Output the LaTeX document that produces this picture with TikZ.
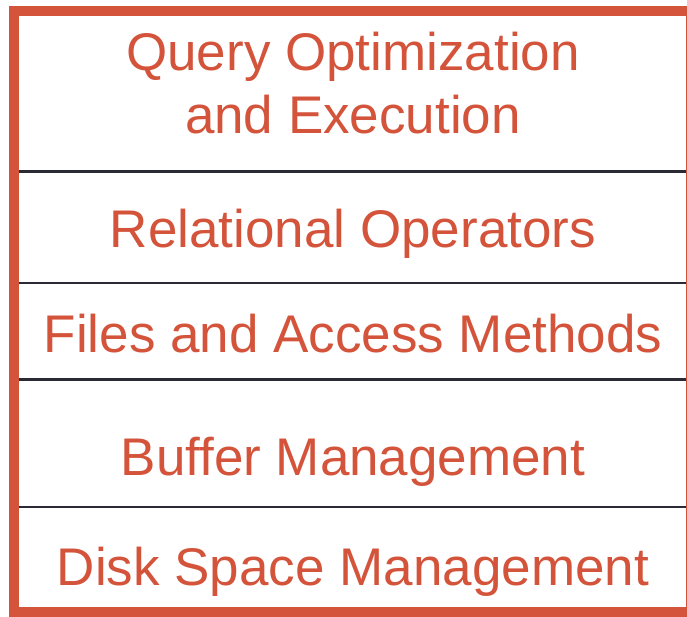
\documentclass[tikz,border=0pt]{standalone}
\usepackage{fontspec}
\setmainfont{Liberation Sans}
\usepackage{tikz}

\definecolor{layerred}{RGB}{212,84,59}
\definecolor{seprule}{RGB}{42,42,52}

\tikzset{
  layer/.style={anchor=base, text=layerred, inner sep=0pt, align=center,
    font=\fontsize{53}{63}\selectfont},
}

\begin{document}
\begin{tikzpicture}[x=1pt,y=-1pt]

\clip (0,0) rectangle (687,616);
\fill[white] (0,0) rectangle (687,616);

\node[layer] (query) at (353,133) {Query Optimization\\and Execution};
\node[layer] (relops) at (353,247) {Relational Operators};
\node[layer] (files) at (353,352) {Files and Access Methods};
\node[layer] (buffer) at (353,475) {Buffer Management};
\node[layer] (disk) at (353,585) {Disk Space Management};

\foreach \y in {171.5, 283, 379.5, 507}
	\draw[seprule, line width=2.4pt] (19,\y) -- (686,\y);

\draw[layerred, line width=10pt] (14,11) rectangle (691,612);

\end{tikzpicture}
\end{document}
